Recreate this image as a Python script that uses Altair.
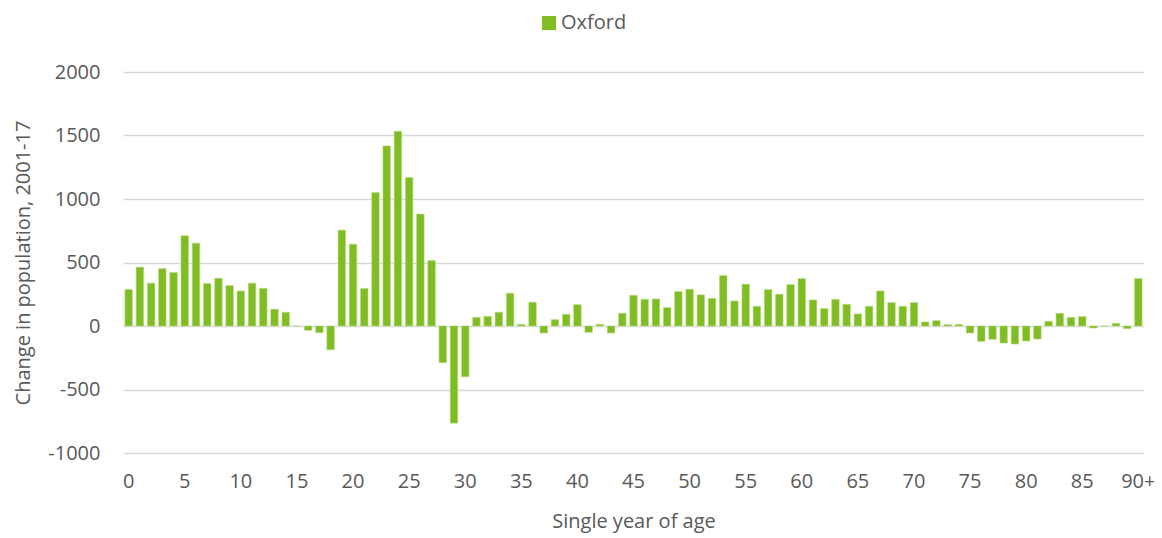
import altair as alt
import pandas as pd

ages = [str(i) for i in range(90)] + ["90+"]
values = [
    287, 463, 337, 452, 421, 710, 652, 334, 376, 318,
    276, 337, 297, 132, 108, 0, -34, -53, -187, 755,
    644, 295, 1052, 1418, 1533, 1170, 881, 515, -289, -765,
    -400, 68, 76, 108, 258, 13, 187, -55, 50, 92,
    168, -50, 13, -55, 100, 242, 210, 213, 145, 271,
    289, 245, 218, 397, 197, 329, 155, 287, 250, 326,
    373, 205, 137, 210, 171, 95, 155, 276, 184, 155,
    184, 32, 42, 11, 13, -55, -121, -105, -134, -142,
    -118, -103, 37, 100, 68, 74, -16, 0, 21, -21,
    373,
]
tick_labels = [str(i) for i in range(0, 90, 5)] + ["90+"]
y_ticks = [-1000, -500, 0, 500, 1000, 1500, 2000]
series = "Oxford"

df = pd.DataFrame({"age": ages, "change": values, "series": series})

FONT = "Open Sans"
GREY = "#595959"

chart = (
    alt.Chart(df)
    .mark_bar(stroke="#b5dc7a", strokeWidth=0.6)
    .encode(
        x=alt.X(
            "age:N",
            sort=ages,
            scale=alt.Scale(paddingInner=0.33, paddingOuter=0.17),
            axis=alt.Axis(
                values=tick_labels,
                labelAngle=0,
                ticks=False,
                domain=False,
                grid=False,
                labelPadding=18,
                labelFont=FONT,
                labelFontSize=20,
                labelColor=GREY,
                title="Single year of age",
                titleFont=FONT,
                titleFontSize=20,
                titleFontWeight="normal",
                titleColor=GREY,
                titleY=58,
            ),
        ),
        y=alt.Y(
            "change:Q",
            scale=alt.Scale(domain=[-1000, 2000], nice=False),
            axis=alt.Axis(
                values=y_ticks,
                labelExpr="'' + datum.value",
                ticks=False,
                domain=False,
                gridColor="#d9d9d9",
                gridWidth=1.3,
                labelPadding=23,
                labelFont=FONT,
                labelFontSize=20,
                labelColor=GREY,
                title="Change in population, 2001-17",
                titleFont=FONT,
                titleFontSize=20,
                titleFontWeight="normal",
                titleColor=GREY,
                titleX=-90,
            ),
        ),
        color=alt.Color(
            "series:N",
            scale=alt.Scale(range=["#80bc24"]),
            legend=alt.Legend(
                title=None,
                orient="none",
                legendX=414,
                legendY=-61,
                symbolType="square",
                symbolSize=196,
                symbolStrokeWidth=0,
                labelFont=FONT,
                labelFontSize=20,
                labelColor=GREY,
                labelOffset=2,
                labelLimit=400,
                padding=2,
            ),
        ),
    )
    .properties(
        width=1021,
        height=381,
        padding={"left": 115, "top": 64, "right": 10, "bottom": 84},
        autosize=alt.AutoSizeParams(type="none"),
    )
    .configure_view(stroke=None)
)

chart.save("out.html", embed_options={"renderer": "svg", "actions": False})
